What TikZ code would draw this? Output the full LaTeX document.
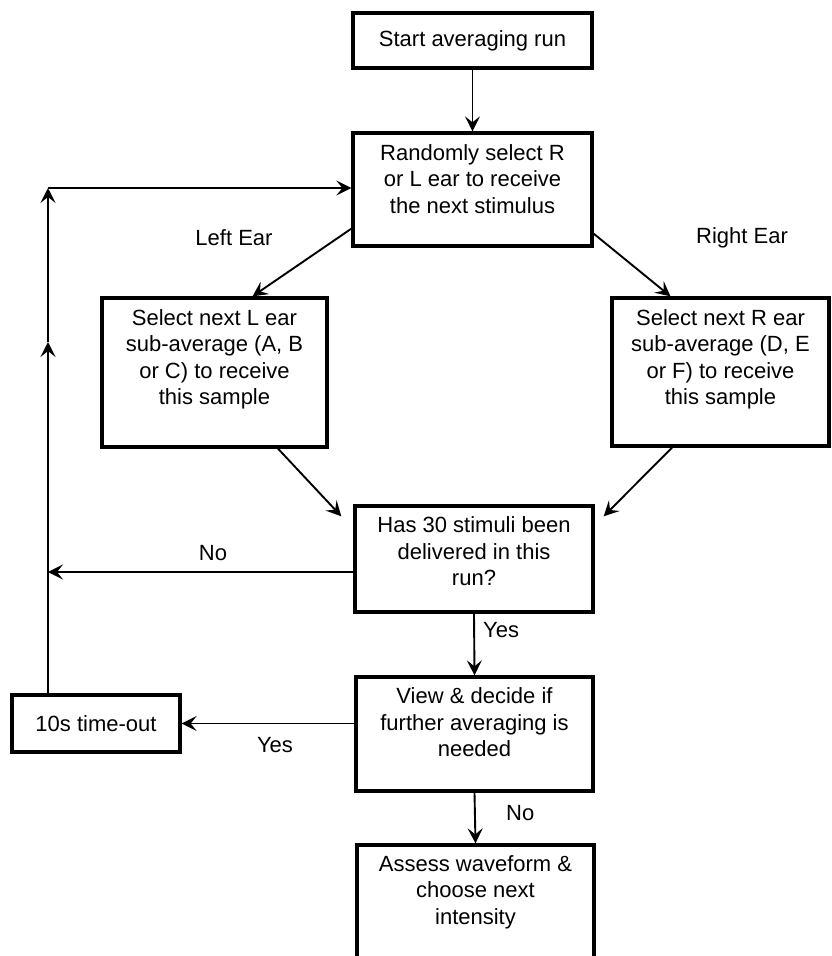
\documentclass[tikz,border=0pt]{standalone}
\usepackage{fontspec}
\setmainfont{Liberation Sans}
\usetikzlibrary{arrows.meta}
\begin{document}
\begin{tikzpicture}[x=1pt,y=-1pt,
  box/.style={draw, line width=3.3pt, rectangle, inner sep=0pt, font=\fontsize{22}{26.5}\selectfont},
  btxt/.style={align=center, inner sep=0pt, font=\fontsize{22}{26.5}\selectfont},
  lab/.style={inner sep=0pt, font=\fontsize{22}{26.5}\selectfont},
  conn/.style={line width=1.9pt, -{Stealth[length=15pt,width=15pt,inset=6pt]}},
  plain/.style={line width=1.9pt}]
\fill[white] (0,0) rectangle (832,956);
\useasboundingbox (0,0) rectangle (832,956);

% boxes
\node[box, minimum width=239pt, minimum height=55pt] (start) at (472.5,40.5) {Start averaging run};
\node[box, minimum width=239pt, minimum height=113pt] (rand) at (472.5,189.5) {};
\node[btxt, below=13pt] (randt) at (rand.north) {Randomly select R\\or L ear to receive\\the next stimulus};
\node[box, minimum width=225pt, minimum height=149pt] (lbox) at (214.5,372.5) {};
\node[btxt, below=13pt] (lboxt) at (lbox.north) {Select next L ear\\sub-average (A, B\\or C) to receive\\this sample};
\node[box, minimum width=217pt, minimum height=148pt] (rbox) at (720.5,372) {};
\node[btxt, below=13pt] (rboxt) at (rbox.north) {Select next R ear\\sub-average (D, E\\or F) to receive\\this sample};
\node[box, minimum width=238pt, minimum height=106pt] (has) at (474,559) {};
\node[btxt, below=12pt] (hast) at (has.north) {Has 30 stimuli been\\delivered in this\\run?};
\node[box, minimum width=237pt, minimum height=114pt] (view) at (474.5,734) {};
\node[btxt, below=12pt] (viewt) at (view.north) {View \& decide if\\further averaging is\\needed};
\node[box, minimum width=168pt, minimum height=57pt] (tout) at (96,723.5) {10s time-out};
\node[box, minimum width=237pt, minimum height=150pt] (assess) at (475.5,920) {};
\node[btxt, below=12pt] (assesst) at (assess.north) {Assess waveform \&\\choose next\\intensity};

% labels
\node[lab] (leftear) at (234,238) {Left Ear};
\node[lab] (rightear) at (742,238) {Right Ear};
\node[lab] (no1) at (213,553) {No};
\node[lab, anchor=west] (yes1) at (483,630) {Yes};
\node[lab] (yes2) at (275,745) {Yes};
\node[lab, anchor=west] (no2) at (506,813) {No};

% helper coordinates
\coordinate (lx) at (48,0);
\coordinate (c1) at (48,188);
\coordinate (mid) at (48,342);
\coordinate (noS) at ([yshift=-13pt]has.west);

% connectors
\draw[conn] (start.south) -- (rand.north);
\draw[conn] ([yshift=19pt]rand.south west) -- ([xshift=38pt]lbox.north);
\draw[conn] ([yshift=14pt]rand.south east) -- ([xshift=-50pt]rbox.north);
\draw[conn] ([xshift=63.5pt]lbox.south) -- ([xshift=-12pt,yshift=-12pt]has.north west);
\draw[conn] ([xshift=-48.5pt]rbox.south) -- ([xshift=9pt,yshift=-12pt]has.north east);
\draw[conn] (noS) -- (noS -| lx);
\draw[conn] (has.south) -- (view.north);
\draw[conn] (view.west |- tout.east) -- (tout.east);
\draw[conn] (view.south) -- (assess.north);
\draw[conn] (tout.north -| lx) -- (mid);
\draw[conn] (mid) -- (c1);
\draw[conn] (c1) -- (c1 -| rand.west);
\end{tikzpicture}
\end{document}
